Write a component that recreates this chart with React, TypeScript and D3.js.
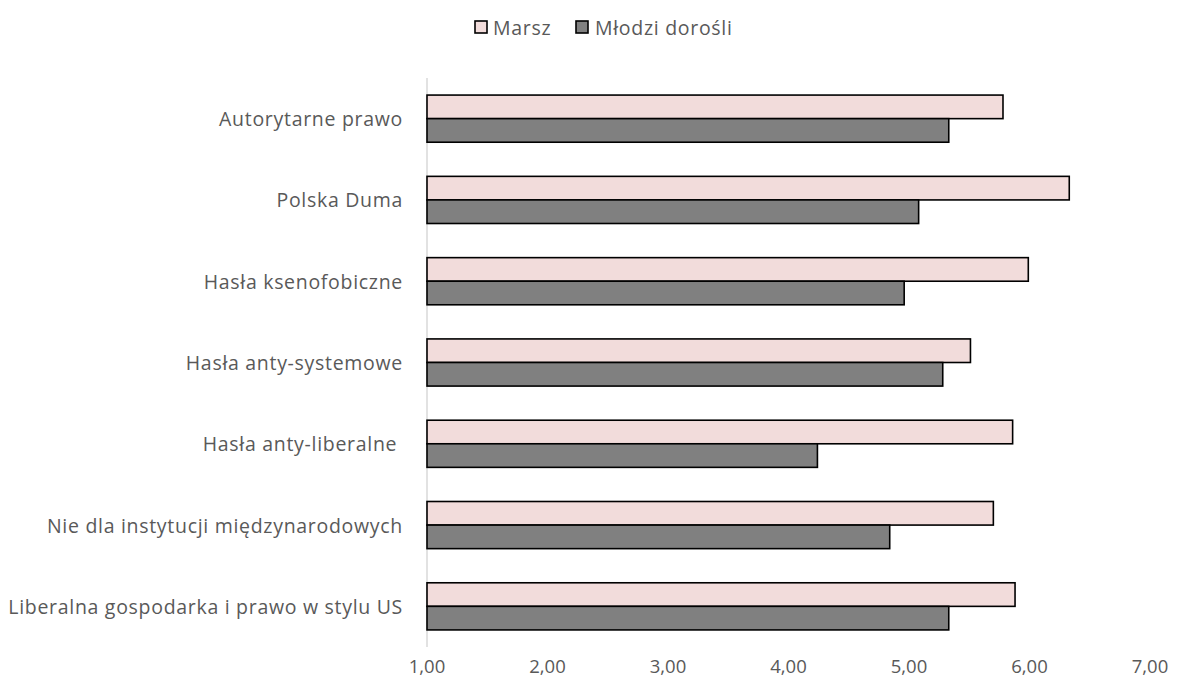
import React from "react";
import * as d3 from "d3";

const categories = [
  "Autorytarne prawo",
  "Polska Duma",
  "Hasła ksenofobiczne",
  "Hasła anty-systemowe",
  "Hasła anty-liberalne ",
  "Nie dla instytucji międzynarodowych",
  "Liberalna gospodarka i prawo w stylu US",
];
const marsz = [5.78, 6.33, 5.99, 5.51, 5.86, 5.7, 5.88];
const mlodzi = [5.33, 5.08, 4.96, 5.28, 4.24, 4.84, 5.33];
const seriesNames = ["Marsz", "Młodzi dorośli"];
const tickValues = [1, 2, 3, 4, 5, 6, 7];

const W = 1180;
const H = 686;
const FONT = "'Open Sans', sans-serif";
const FS = 19.5;
const LS = 0.7;
const TEXT = "#595959";
const FILLS = ["#f2dcdb", "#808080"];

export default function App() {
  const x = d3.scaleLinear().domain([1, 7]).range([427, 1150]);
  const y = d3
    .scaleBand<string>()
    .domain(categories)
    .range([78, 647])
    .paddingInner(0.42)
    .paddingOuter(0.21);
  const inner = d3
    .scaleBand<number>()
    .domain([0, 1])
    .range([0, y.bandwidth()])
    .padding(0);
  const series = [marsz, mlodzi];
  const fmt = (v: number) => v.toFixed(2).replace(".", ",");

  return (
    <svg
      width={W}
      height={H}
      style={{ position: "absolute", left: 0, top: 0, background: "#fff" }}
      fontFamily={FONT}
    >
      <rect x={0} y={0} width={W} height={H} fill="#fff" />
      <line x1={x(1)} x2={x(1)} y1={78} y2={647} stroke="#d9d9d9" strokeWidth={1.5} />
      {categories.map((c, i) => (
        <g key={c}>
          {series.map((s, k) => (
            <rect
              key={k}
              x={x(1)}
              y={(y(c) as number) + (inner(k) as number)}
              width={x(s[i]) - x(1)}
              height={inner.bandwidth()}
              fill={FILLS[k]}
              stroke="#000"
              strokeWidth={1.6}
            />
          ))}
          <text
            x={403}
            y={(y(c) as number) + y.bandwidth() / 2}
            textAnchor="end"
            dominantBaseline="central"
            fontSize={FS}
            letterSpacing={LS}
            fill={TEXT}
            style={{ whiteSpace: "pre" }}
          >
            {c}
          </text>
        </g>
      ))}
      {tickValues.map((t) => (
        <text
          key={t}
          x={x(t)}
          y={665}
          textAnchor="middle"
          dominantBaseline="central"
          fontSize={18.5}
          fill={TEXT}
        >
          {fmt(t)}
        </text>
      ))}
      <g>
        <rect x={475} y={21} width={12} height={12} fill={FILLS[0]} stroke="#000" strokeWidth={1.6} />
        <text x={493} y={27} dominantBaseline="central" fontSize={FS} letterSpacing={LS} fill={TEXT}>
          {seriesNames[0]}
        </text>
        <rect x={576} y={21} width={12} height={12} fill={FILLS[1]} stroke="#000" strokeWidth={1.6} />
        <text x={595} y={27} dominantBaseline="central" fontSize={FS} letterSpacing={LS} fill={TEXT}>
          {seriesNames[1]}
        </text>
      </g>
    </svg>
  );
}
